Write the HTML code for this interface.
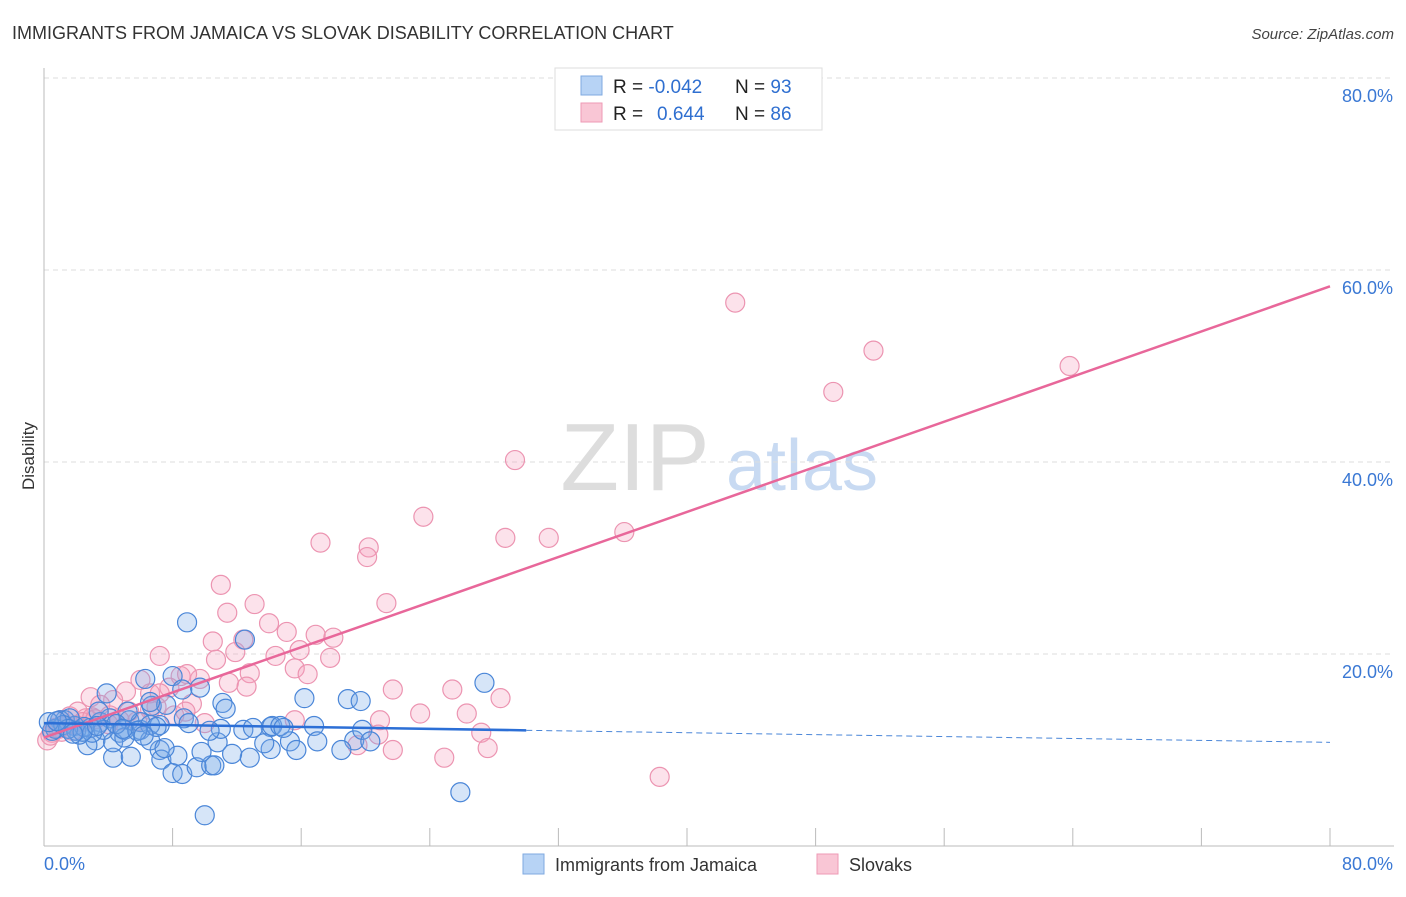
<!DOCTYPE html>
<html><head><meta charset="utf-8"><style>
body{margin:0;background:#fff;font-family:"Liberation Sans",sans-serif}
svg text{font-family:"Liberation Sans",sans-serif}
</style></head><body>
<svg id="chart" width="1406" height="892">
<text x="12" y="39" font-size="18" fill="#333">IMMIGRANTS FROM JAMAICA VS SLOVAK DISABILITY CORRELATION CHART</text>
<text x="1394" y="39" font-size="15" fill="#444" font-style="italic" text-anchor="end">Source: ZipAtlas.com</text>
<text x="34" y="456" font-size="17" fill="#333" transform="rotate(-90 34 456)" text-anchor="middle">Disability</text>
<g><text x="635" y="490" font-size="96" font-family="Liberation Serif" fill="#ddd" text-anchor="middle">ZIP</text><text x="802" y="490" font-size="72" fill="#c8daf2" text-anchor="middle">atlas</text></g>
<g id="grid"></g><g id="ticks"></g><g id="pts"></g><g id="lines"></g>
<g>
<rect x="555" y="68" width="267" height="62" fill="#fff" stroke="#ddd"/>
<rect x="581" y="76" width="21" height="19" fill="#b7d3f5" stroke="#7fa9e0"/>
<rect x="581" y="103" width="21" height="19" fill="#f9c6d5" stroke="#ee9ab5"/>
<text x="613" y="93" font-size="19" fill="#222">R = <tspan fill="#2f6fd0">-0.042</tspan></text>
<text x="735" y="93" font-size="19" fill="#222">N = <tspan fill="#2f6fd0">93</tspan></text>
<text x="613" y="120" font-size="19" fill="#222">R = <tspan fill="#2f6fd0" x="657">0.644</tspan></text>
<text x="735" y="120" font-size="19" fill="#222">N = <tspan fill="#2f6fd0">86</tspan></text>
</g>
<g>
<rect x="523" y="854" width="21" height="20" fill="#b7d3f5" stroke="#7fa9e0"/>
<text x="555" y="871" font-size="18" fill="#333">Immigrants from Jamaica</text>
<rect x="817" y="854" width="21" height="20" fill="#f9c6d5" stroke="#ee9ab5"/>
<text x="849" y="871" font-size="18" fill="#333">Slovaks</text>
</g>
</svg>
<script>
const blueX=[8.9,12.5,8.0,6.3,9.7,3.9,11.1,8.6,16.2,18.9,19.7,27.4,1.3,8.7,5.3,7.2,6.7,7.6,4.7,6.0,3.2,2.7,4.3,5.4,7.2,7.3,8.0,8.6,9.5,10.4,10.6,9.8,10.8,11.0,12.4,12.8,14.1,14.1,14.2,15.3,15.7,16.8,17.0,19.3,19.8,20.3,25.9,10.0,14.7,14.9,4.3,5.0,6.0,1.9,2.2,1.0,0.7,1.6,3.5,2.9,4.1,5.0,6.6,6.6,3.7,11.7,8.3,7.5,5.2,3.4,6.6,11.3,13.7,18.5,0.5,1.2,2.0,2.5,3.0,0.3,1.5,4.5,5.8,7.0,9.0,2.4,3.3,0.8,1.8,4.9,6.2,10.3,13.0];
const blueY=[23.3,21.5,17.7,17.4,16.5,15.9,14.9,16.3,15.4,15.3,15.1,17.0,13.1,13.3,13.1,12.6,14.6,14.7,11.8,12.1,11.0,10.5,9.2,9.3,10.0,9.0,7.6,7.5,8.2,8.4,8.4,9.8,10.8,12.2,12.1,9.2,10.1,12.4,12.5,10.9,10.0,12.5,10.9,11.0,12.1,10.9,5.6,3.2,12.5,12.3,10.8,12.1,12.9,12.5,11.6,13.1,12.2,13.3,12.9,12.3,13.3,11.3,11.0,12.6,12.1,9.6,9.4,10.2,14.0,14.0,15.0,14.3,10.7,10.0,12.0,12.6,12.0,12.4,11.8,12.9,12.2,12.7,12.0,12.4,12.8,11.9,12.5,13.0,11.7,12.2,11.5,12.0,12.3];
const pinkX=[43.0,51.6,49.1,63.8,29.3,23.6,17.2,20.2,20.1,28.7,31.4,36.1,38.3,11.0,13.1,21.3,11.4,14.0,12.4,10.5,15.1,16.9,18.0,15.9,11.9,7.2,10.7,14.4,17.8,15.6,16.4,12.8,9.7,8.5,8.9,11.5,12.6,21.7,25.4,28.4,7.8,6.6,7.2,5.1,2.9,4.3,6.0,9.2,10.0,23.4,26.3,15.6,20.9,27.2,19.5,21.7,24.9,27.6,20.8,1.6,1.0,2.1,3.5,5.3,4.7,0.5,0.2,0.7,2.6,4.1,6.6,8.1,37.8,1.3,2.4,3.0,0.4,1.8,5.8,4.0,3.2,0.9,7.0,8.8,2.0,1.1];
const pinkY=[56.6,51.6,47.3,50.0,40.2,34.3,31.6,31.1,30.1,32.1,32.1,32.7,7.2,27.2,25.2,25.3,24.3,23.2,21.5,21.3,22.3,22.0,21.7,20.4,20.2,19.8,19.4,19.8,19.6,18.5,17.9,18.0,17.4,17.7,17.9,17.0,16.6,16.3,16.3,15.4,16.5,15.9,15.9,16.1,15.5,15.2,17.3,14.8,12.8,13.8,13.8,13.1,13.1,11.8,10.5,10.0,9.2,10.2,11.6,13.5,13.1,14.0,14.7,14.0,13.1,11.8,11.0,12.3,13.3,13.6,14.2,13.6,78.0,12.5,12.9,13.4,11.5,12.0,13.0,12.7,13.2,12.2,14.5,14.0,12.6,11.9];
const yTicks=[20,40,60,80];
const trendPink=[11.3,58.3];
const trendBlue=[12.8,10.8];
const X=v=>44+v*1286/80, Y=v=>846-v*9.6;
const NS='http://www.w3.org/2000/svg';
function mk(tag,attrs,parent){const e=document.createElementNS(NS,tag);for(const k in attrs)e.setAttribute(k,attrs[k]);parent.appendChild(e);return e;}
const grid=document.getElementById('grid'),ticks=document.getElementById('ticks'),pts=document.getElementById('pts'),lines=document.getElementById('lines');
yTicks.forEach(t=>{
 const l=mk('line',{x1:44,x2:1394,y1:Y(t),y2:Y(t),stroke:'#ddd','stroke-dasharray':'5,4'},grid);
 
 
 const tx=mk('text',{x:1393,y:Y(t)+24,'font-size':18,fill:'#3a78d4','text-anchor':'end'},ticks);
 tx.textContent=t.toFixed(1)+'%';
 
 
});
mk('line',{x1:44,x2:44,y1:68,y2:846,stroke:'#bbb'},ticks);
mk('line',{x1:44,x2:1394,y1:846,y2:846,stroke:'#bbb'},ticks);
for(let i=0;i<=10;i++){mk('line',{x1:X(i*8),x2:X(i*8),y1:828,y2:846,stroke:'#bbb'},ticks);}
const x0=mk('text',{x:44,y:870,'font-size':18,fill:'#3a78d4'},ticks);x0.textContent='0.0%';


const x1=mk('text',{x:1393,y:870,'font-size':18,fill:'#3a78d4','text-anchor':'end'},ticks);x1.textContent='80.0%';


pinkX.forEach((v,i)=>{const c=mk('circle',{cx:X(v),cy:Y(pinkY[i]),r:9.5,fill:'rgba(244,160,188,0.3)',stroke:'#ec94b1','stroke-width':1.2},pts);
 
 });
blueX.forEach((v,i)=>{const c=mk('circle',{cx:X(v),cy:Y(blueY[i]),r:9.5,fill:'rgba(120,170,232,0.3)',stroke:'#4a86d8','stroke-width':1.2},pts);
 
 });
const pl=mk('line',{x1:X(0),y1:Y(trendPink[0]),x2:X(80),y2:Y(trendPink[1]),stroke:'#e8679a','stroke-width':2.5},lines);


const bAt=x=>trendBlue[0]+(trendBlue[1]-trendBlue[0])*x/80;
const bl=mk('line',{x1:X(0),y1:Y(bAt(0)),x2:X(30),y2:Y(bAt(30)),stroke:'#2c6fd6','stroke-width':2.5},lines);


const bd=mk('line',{x1:X(30),y1:Y(bAt(30)),x2:X(80),y2:Y(bAt(80)),stroke:'#4a86d8','stroke-width':1,'stroke-dasharray':'6,4'},lines);


</script>
</body></html>
